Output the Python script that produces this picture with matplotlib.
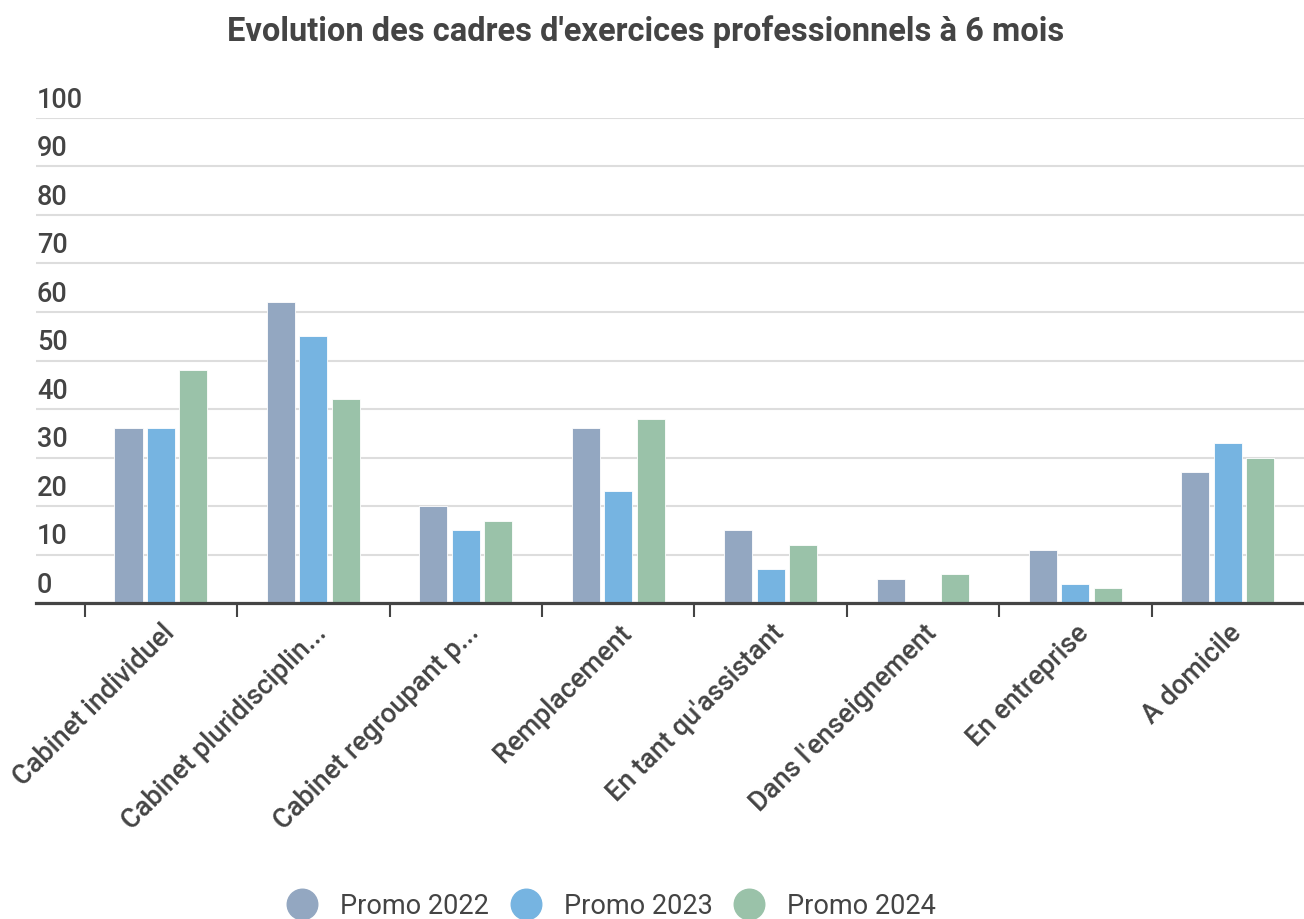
import matplotlib
matplotlib.use('Agg')
import matplotlib.pyplot as plt
import matplotlib.transforms as mtransforms
from matplotlib.lines import Line2D
import numpy as np

plt.rcParams['font.family'] = ['Roboto', 'DejaVu Sans']

categories = ['Cabinet individuel', 'Cabinet pluridisciplin...', 'Cabinet regroupant p...',
              'Remplacement', "En tant qu'assistant", "Dans l'enseignement",
              'En entreprise', 'A domicile']
promo_2022 = [36, 62, 20, 36, 15, 5, 11, 27]
promo_2023 = [36, 55, 15, 23, 7, 0, 4, 33]
promo_2024 = [48, 42, 17, 38, 12, 6, 3, 30]
series_names = ['Promo 2022', 'Promo 2023', 'Promo 2024']
colors = ['#93a7c1', '#76b4e1', '#9ac2a9']
y_ticks = list(range(0, 101, 10))

text_col = '#444444'
fs = 19.5

fig = plt.figure(figsize=(13.04, 9.19), dpi=100)
ax = fig.add_axes([36 / 1304, 1 - 603 / 919, 1 - 36 / 1304, (603 - 118) / 919])

x = np.arange(len(categories))
bw = 0.184
step = 0.213
for i, (vals, col) in enumerate(zip([promo_2022, promo_2023, promo_2024], colors)):
    ax.bar(x + (i - 1) * step, vals, width=bw, color=col, edgecolor='#ffffff',
           linewidth=0.6, zorder=3)

ax.set_xlim(-0.82, len(categories) - 0.5)
ax.set_ylim(0, 100)

for s in ['top', 'right', 'left']:
    ax.spines[s].set_visible(False)
ax.spines['bottom'].set_color(text_col)
ax.spines['bottom'].set_linewidth(2.3)
ax.spines['bottom'].set_zorder(4)

ax.set_yticks(y_ticks)
ax.yaxis.grid(True, color='#dddddd', linewidth=1.5, zorder=0)
ax.tick_params(axis='y', length=0, labelleft=False)

# y labels sit above their gridlines, flush left
trans = mtransforms.blended_transform_factory(ax.transAxes, ax.transData)
trans = mtransforms.offset_copy(trans, fig=fig, x=1, y=4, units='dots')
for t in y_ticks:
    ax.text(0, t, str(t), transform=trans, ha='left', va='bottom',
            fontsize=fs, color=text_col, fontweight='medium')

ax.set_xticks(x)
ax.set_xticklabels(categories, rotation=45, ha='right', rotation_mode='anchor',
                   fontsize=fs, color=text_col, fontweight='medium')
ax.tick_params(axis='x', which='major', length=0, pad=12)
ax.set_xticks(np.arange(-0.5, len(categories) - 0.5, 1.0), minor=True)
ax.tick_params(axis='x', which='minor', length=10, width=1.5, color=text_col)

fig.text(646 / 1304, 1 - 32 / 919, "Evolution des cadres d'exercices professionnels à 6 mois",
         ha='center', va='center', fontsize=23.5, fontweight='bold', color=text_col)

handles = [Line2D([], [], marker='o', linestyle='none', markersize=22,
                  markerfacecolor=c, markeredgecolor=c) for c in colors]
fig.legend(handles, series_names, loc='center', bbox_to_anchor=(0.469, 1 - 906 / 919),
           ncol=3, frameon=False, fontsize=fs, handlelength=1.1, handletextpad=0.85,
           columnspacing=0.8, labelcolor=text_col, borderaxespad=0, borderpad=0)

fig.savefig('out.png', dpi=100)
